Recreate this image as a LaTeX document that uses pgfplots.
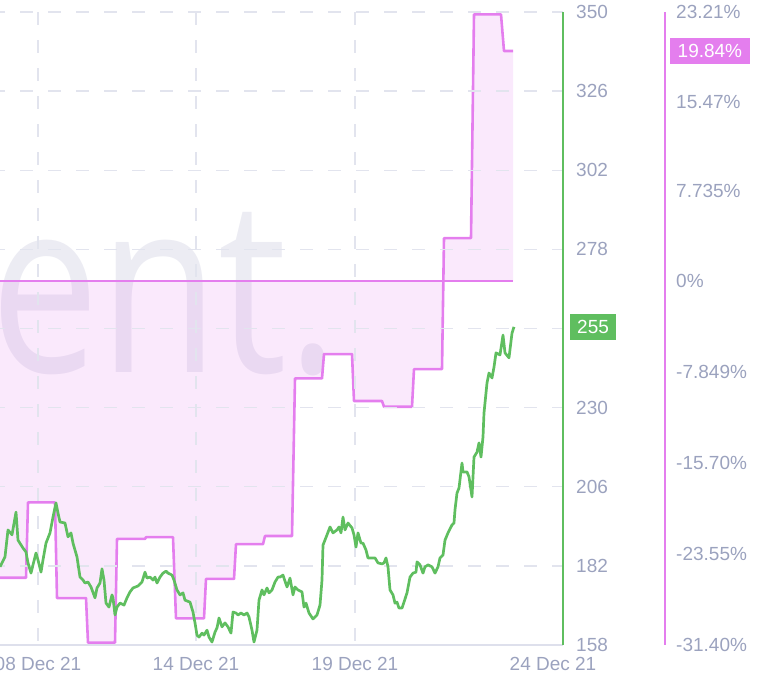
\documentclass[border=0pt]{standalone}
\usepackage{fontspec}
\setmainfont{Liberation Sans}
\newfontfamily\wmfont{Open Sans}
\usepackage{graphicx}
\usepackage{pgfplots}
\pgfplotsset{compat=1.18}
\definecolor{gline}{RGB}{95,190,95}
\definecolor{pline}{RGB}{228,126,238}
\definecolor{lab}{RGB}{155,162,190}
\definecolor{grd}{RGB}{226,228,238}
\definecolor{wm}{RGB}{236,236,243}
\definecolor{baseax}{RGB}{222,224,236}
\newcommand{\lf}{\fontsize{19}{19}\selectfont}
\begin{document}
\begin{tikzpicture}[x=1pt,y=1pt]
\node[anchor=base west, inner sep=0, text=wm] at (-10pt,301pt) {\scalebox{0.80}[1]{\fontsize{243}{243}\selectfont\wmfont ent.}};

% ---------- pink (percentage) axis ----------
\begin{axis}[at={(0pt,29pt)}, anchor=south west, scale only axis,
  width=665pt, height=633pt, xmin=0, xmax=665, ymin=-31.40, ymax=23.21,
  axis line style={draw=none},
  xtick=\empty,
  ytick pos=right, yticklabel pos=right,
  major tick length=0pt,
  ytick={-31.40,-23.55,-15.70,-7.849,0,7.735,15.47,23.21},
  yticklabels={-31.40\%,-23.55\%,-15.70\%,-7.849\%,0\%,7.735\%,15.47\%,23.21\%},
  yticklabel style={anchor=west, inner sep=0pt, xshift=11pt, text=lab, font=\lf},
  clip mode=individual]
\addplot[draw=none, fill=pline, fill opacity=0.17] coordinates {
(0,-25.6) (26,-25.6) (28,-19.1) (55,-19.1) (57,-27.35) (86,-27.35) (88,-31.2) (115,-31.2)
(117,-22.25) (145,-22.25) (146,-22.1) (173,-22.1) (176,-29.1) (204,-29.1) (206,-25.7) (234,-25.7)
(236,-22.7) (263,-22.7) (265,-22.0) (292,-22.0) (295,-8.4) (322,-8.4) (324,-6.3) (352,-6.3)
(354,-10.35) (382,-10.35) (384,-10.85) (412,-10.85) (414,-7.6) (442,-7.6) (444,3.7) (471,3.7)
(474,23.0) (501,23.0) (504,19.84) (513,19.84)} \closedcycle;
\addplot[draw=pline, line width=1.3pt, opacity=1] coordinates {(0,0) (513,0)};
\addplot[pline, line width=2.6pt, line join=round] coordinates {
(0,-25.6) (26,-25.6) (28,-19.1) (55,-19.1) (57,-27.35) (86,-27.35) (88,-31.2) (115,-31.2)
(117,-22.25) (145,-22.25) (146,-22.1) (173,-22.1) (176,-29.1) (204,-29.1) (206,-25.7) (234,-25.7)
(236,-22.7) (263,-22.7) (265,-22.0) (292,-22.0) (295,-8.4) (322,-8.4) (324,-6.3) (352,-6.3)
(354,-10.35) (382,-10.35) (384,-10.85) (412,-10.85) (414,-7.6) (442,-7.6) (444,3.7) (471,3.7)
(474,23.0) (501,23.0) (504,19.84) (513,19.84)};
\draw[pline, line width=1.4pt] (rel axis cs:1,0) -- (rel axis cs:1,1);
\node[fill=pline, text=white, anchor=west, inner xsep=7.5pt, inner ysep=0pt, minimum height=26pt, font=\lf] at (axis cs:665,19.84) [xshift=5pt] {19.84\%};
\end{axis}

% ---------- green (price) axis ----------
\begin{axis}[at={(0pt,29pt)}, anchor=south west, scale only axis,
  width=563pt, height=633pt, xmin=0, xmax=563, ymin=158, ymax=350,
  axis line style={draw=none},
  xtick pos=left, xticklabel pos=left, ytick pos=right, yticklabel pos=right,
  major tick length=0pt,
  xmajorgrids, ymajorgrids,
  x grid style={draw=grd, line width=1.3pt, dash pattern=on 13.3pt off 14.7pt, dash phase=24pt},
  y grid style={draw=grd, line width=1.3pt, dash pattern=on 13.3pt off 14.7pt, dash phase=8pt},
  ytick={182,206,230,254,278,302,326,350},
  yticklabels={182,206,230,,278,302,326,350},
  extra y ticks={158}, extra y tick labels={158}, extra y tick style={grid=none},
  yticklabel style={anchor=west, inner sep=0pt, xshift=13pt, text=lab, font=\lf},
  xtick={38,196,355},
  xticklabels={08 Dec 21,14 Dec 21,19 Dec 21},
  extra x ticks={553}, extra x tick labels={24 Dec 21},
  extra x tick style={grid=none},
  xticklabel style={anchor=north, inner sep=0pt, yshift=-12pt, text=lab, font=\lf},
  clip mode=individual]
\draw[baseax, line width=1.5pt] (rel axis cs:0,0) -- (rel axis cs:1,0);
\addplot[gline, line width=2.7pt, line join=round] coordinates {
(0,181.7) (5,184.7) (8,192.9) (12,191.4) (16,198.3) (18,189.8) (23,187.4) (26,186.2)
(28,182.9) (31,179.8) (33,182.3) (36,185.9) (38,183.8) (41,180.1) (43,183.8) (46,188.9)
(50,192.0) (53,196.8) (56,201.1) (58,198.0) (60,195.3) (65,195.0) (68,190.8) (71,192.0)
(73,188.9) (77,184.7) (80,178.6) (83,177.7) (85,176.8) (88,177.1) (91,175.6) (95,172.3)
(97,175.3) (100,176.8) (102,181.1) (104,177.7) (106,170.7) (109,169.5) (112,173.2) (113,172.3)
(115,167.1) (117,169.5) (120,170.7) (124,170.1) (127,172.3) (130,174.1) (133,175.3) (138,175.9)
(142,177.1) (145,180.1) (147,178.3) (150,178.6) (153,177.7) (155,178.6) (157,176.8) (160,178.6)
(163,179.8) (166,180.4) (168,179.8) (172,179.2) (174,177.7) (177,174.7) (180,173.2) (183,173.8)
(185,171.6) (190,171.0) (193,168.0) (195,164.7) (197,161.0) (199,160.4) (202,161.6) (204,161.0)
(207,162.5) (209,160.4) (212,158.9) (215,161.9) (217,163.2) (219,166.2) (222,163.5) (225,164.7)
(228,163.5) (231,161.6) (233,168.0) (236,167.7) (238,167.1) (241,167.7) (244,167.1) (247,167.7)
(249,166.5) (252,162.5) (254,158.9) (257,162.5) (259,171.6) (262,174.7) (264,173.2) (267,175.3)
(269,173.8) (272,174.7) (275,177.1) (278,178.6) (280,178.6) (283,179.2) (287,175.6) (290,178.3)
(293,173.2) (295,175.6) (298,174.7) (302,174.1) (304,169.5) (306,170.7) (309,167.7) (313,165.9)
(317,167.1) (320,170.1) (322,177.7) (323,188.3) (327,191.4) (330,193.8) (333,192.0) (337,192.9)
(339,193.8) (341,192.0) (343,196.8) (345,192.9) (348,195.0) (352,193.5) (354,191.4) (356,187.7)
(358,192.0) (361,188.9) (363,188.9) (366,186.8) (368,184.4) (372,184.4) (375,184.4) (378,182.9)
(382,182.6) (384,182.9) (386,184.4) (388,181.7) (390,174.7) (393,173.2) (395,170.7) (397,171.0)
(399,169.2) (402,169.2) (403,170.1) (407,173.8) (410,178.6) (413,179.8) (416,180.1) (417,183.2)
(420,182.3) (423,179.8) (425,181.7) (428,182.3) (432,181.7) (435,179.8) (438,181.7) (440,184.4)
(443,185.3) (445,189.8) (448,192.0) (452,194.4) (454,195.0) (455,199.0) (457,204.1) (459,205.6)
(462,213.2) (463,210.5) (467,210.5) (469,209.0) (472,202.9) (474,215.0) (477,216.5) (479,219.3)
(481,215.0) (483,221.1) (484,228.4) (487,237.5) (489,240.5) (492,239.0) (494,242.3) (496,246.6)
(500,246.0) (503,252.0) (505,246.6) (509,245.1) (512,252.6) (514,254.5)};
\draw[gline, line width=1.4pt] (rel axis cs:1,0) -- (rel axis cs:1,1);
\node[fill=gline, text=white, anchor=west, inner xsep=7pt, inner ysep=0pt, minimum height=26pt, font=\lf] at (axis cs:563,254.5) [xshift=7pt] {255};
\end{axis}
\pgfresetboundingbox
\useasboundingbox (0pt,0pt) rectangle (758pt,674pt);
\end{tikzpicture}
\end{document}
